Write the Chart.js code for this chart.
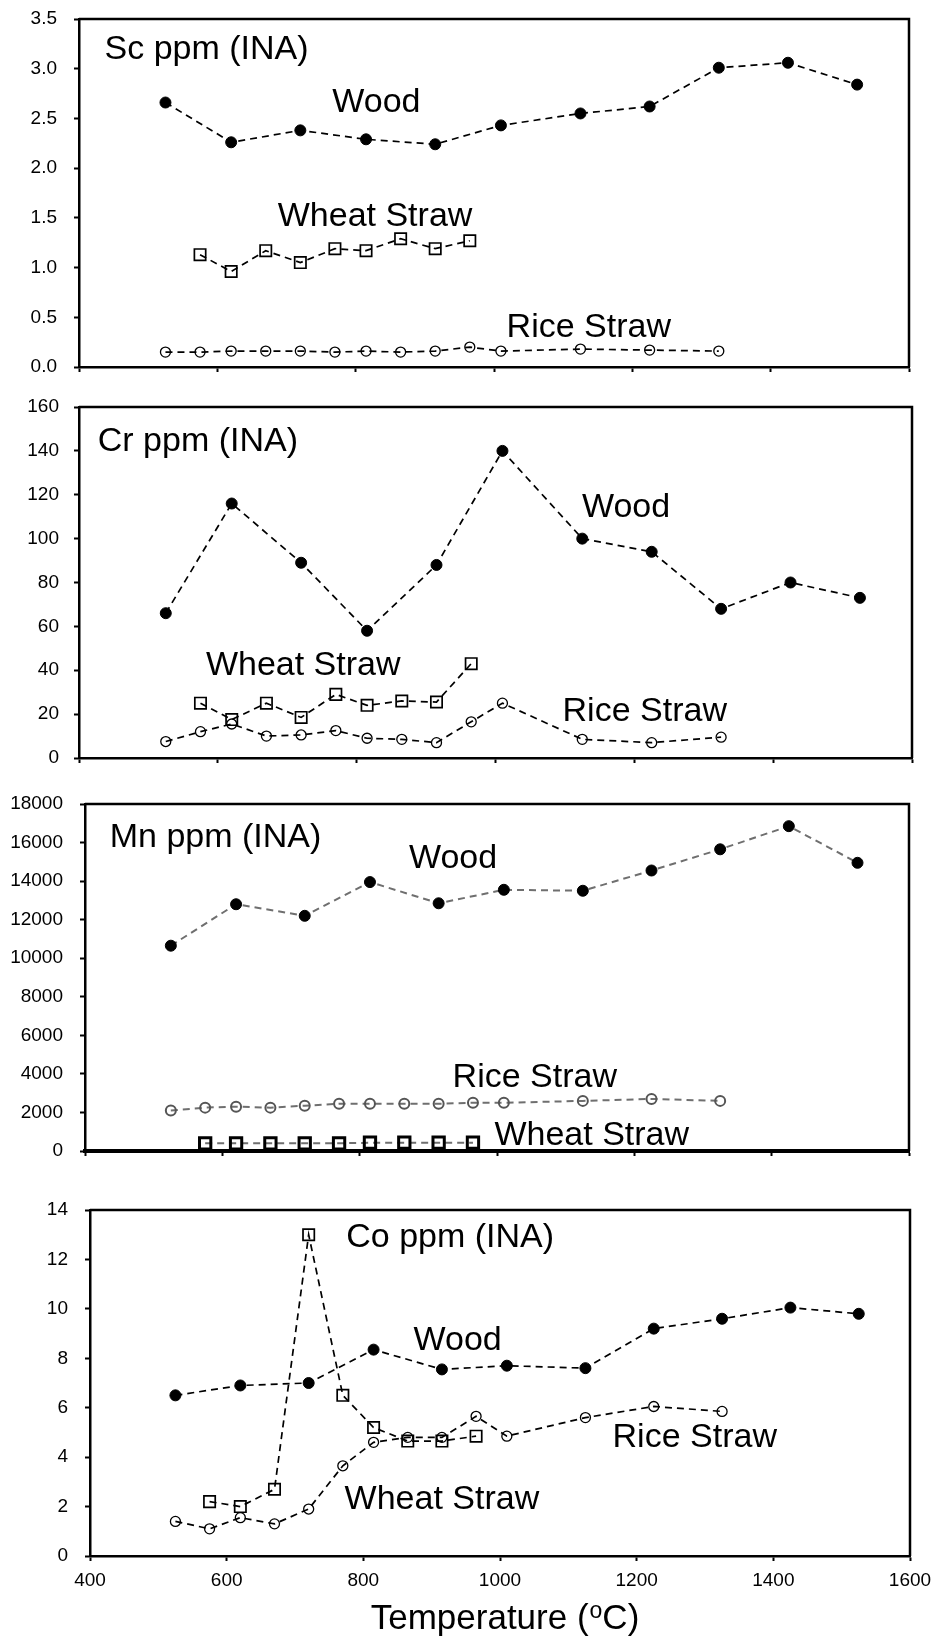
<!DOCTYPE html>
<html>
<head>
<meta charset="utf-8">
<script src="https://cdn.jsdelivr.net/npm/chart.js@4.4.1/dist/chart.umd.min.js"></script>
<style>
  body { margin: 0; background: #fff; }
  #wrap { position: relative; width: 942px; height: 1642px; overflow: hidden; }
  canvas { position: absolute; left: 0; }
</style>
</head>
<body>
<div id="wrap">
  <canvas id="scChart"></canvas>
  <canvas id="crChart"></canvas>
  <canvas id="mnChart"></canvas>
  <canvas id="coChart"></canvas>
</div>
<script>
// temperatures (oC) for each material
const woodTemps = [525, 620, 720, 815, 915, 1010, 1125, 1225, 1325, 1425, 1525];
const wheatTemps = [575, 620, 670, 720, 770, 815, 865, 915, 965];
const riceTemps = [525, 575, 620, 670, 720, 770, 815, 865, 915, 965, 1010, 1125, 1225, 1325];
const xTicks = [400, 600, 800, 1000, 1200, 1400, 1600];

// Sc ppm
const scWood = [2.66, 2.26, 2.38, 2.29, 2.24, 2.43, 2.55, 2.62, 3.01, 3.06, 2.84];
const scWheat = [1.13, 0.96, 1.17, 1.05, 1.19, 1.17, 1.29, 1.19, 1.27];
const scRice = [0.15, 0.15, 0.16, 0.16, 0.16, 0.15, 0.16, 0.15, 0.16, 0.20, 0.16, 0.18, 0.17, 0.16];

// Cr ppm
const crWood = [66, 116, 89, 58, 88, 140, 100, 94, 68, 80, 73];
const crWheat = [25, 17.5, 25, 18.5, 29, 24, 26, 25.5, 43];
const crRice = [7.5, 12, 15.5, 10, 10.5, 12.5, 9, 8.5, 7, 16.5, 25, 8.5, 7, 9.5];

// Mn ppm
const mnWood = [10650, 12800, 12200, 13950, 12850, 13550, 13500, 14550, 15650, 16850, 14950];
const mnWheat = [400, 400, 400, 400, 400, 430, 430, 430, 430];
const mnRice = [2100, 2250, 2300, 2250, 2350, 2450, 2450, 2450, 2450, 2500, 2500, 2600, 2700, 2600];

// Co ppm
const coWood = [6.5, 6.9, 7.0, 8.35, 7.55, 7.7, 7.6, 9.2, 9.6, 10.05, 9.8];
const coWheat = [2.2, 2.0, 2.7, 13.0, 6.5, 5.2, 4.65, 4.65, 4.85];
const coRice = [1.4, 1.1, 1.55, 1.3, 1.9, 3.65, 4.6, 4.8, 4.8, 5.65, 4.85, 5.6, 6.05, 5.85];

const FONT = '"Liberation Sans", Arial, sans-serif';
Chart.defaults.font.family = FONT;
Chart.defaults.color = '#000';

const PAGE_W = 942;
const MARGIN = 32; // room kept above/below each plot inside its canvas

function pts(xs, ys) {
    return xs.map((x, i) => ({ x: x, y: ys[i] }));
}

// draws the box (top + right edges) and the text labels inside the plot
const boxAndLabels = {
    id: 'boxAndLabels',
    afterDatasetsDraw(chart, args, opts) {
        const ctx = chart.ctx;
        const a = chart.chartArea;
        ctx.save();
        ctx.strokeStyle = '#000';
        ctx.lineWidth = opts.boxWidth || 2.5;
        ctx.beginPath();
        ctx.moveTo(a.left, a.top);
        ctx.lineTo(a.right, a.top);
        ctx.lineTo(a.right, a.bottom);
        ctx.stroke();

        ctx.fillStyle = '#000';
        ctx.font = '34px ' + FONT;
        ctx.textBaseline = 'alphabetic';
        (opts.labels || []).forEach(l => {
            ctx.textAlign = l.align || 'center';
            ctx.fillText(l.text, chart.scales.x.getPixelForValue(l.x), chart.scales.y.getPixelForValue(l.y));
        });

        if (opts.xTitle) {
            // Temperature (oC) with a raised small o
            const big = '35px ' + FONT, small = '23px ' + FONT;
            const p1 = 'Temperature (', p2 = 'o', p3 = 'C)';
            ctx.font = big; const w1 = ctx.measureText(p1).width, w3 = ctx.measureText(p3).width;
            ctx.font = small; const w2 = ctx.measureText(p2).width;
            const cx = (a.left + a.right) / 2 + 5;
            let x = cx - (w1 + w2 + w3 + 1) / 2;
            const base = chart.height - 13;
            ctx.textAlign = 'left';
            ctx.font = big; ctx.fillText(p1, x, base); x += w1;
            ctx.font = small; ctx.fillText(p2, x + 1, base - 11); x += w2 + 1;
            ctx.font = big; ctx.fillText(p3, x, base);
        }
        ctx.restore();
    }
};

function makePanel(id, p) {
    // place the canvas so the plot area lands on p.top .. p.bottom of the page
    const canvas = document.getElementById(id);
    const xHeight = p.xHeight || MARGIN;
    const canvasTop = p.top - MARGIN;
    canvas.width = PAGE_W;
    canvas.height = p.bottom + xHeight - canvasTop;
    canvas.style.top = canvasTop + 'px';

    const lineCol = p.lineColor || '#000';
    const lw = p.lineWidth || 1.7;
    const dash = [7, 5];
    const datasets = [
        {
            label: 'Wood', data: pts(woodTemps, p.wood),
            borderColor: lineCol, borderWidth: lw, borderDash: dash,
            pointStyle: 'circle', pointRadius: 5.5, pointBackgroundColor: '#000', pointBorderColor: '#000', pointBorderWidth: 1
        },
        {
            label: 'Wheat Straw', data: pts(wheatTemps, p.wheat),
            borderColor: lineCol, borderWidth: lw, borderDash: dash,
            pointStyle: 'rect', pointRadius: p.squareRadius || 8, pointBackgroundColor: 'rgba(0,0,0,0)',
            pointBorderColor: '#000', pointBorderWidth: p.squareBorder || 1.7
        },
        {
            label: 'Rice Straw', data: pts(riceTemps, p.rice),
            borderColor: lineCol, borderWidth: lw, borderDash: dash,
            pointStyle: 'circle', pointRadius: 5, pointBackgroundColor: 'rgba(0,0,0,0)',
            pointBorderColor: p.riceColor || '#000', pointBorderWidth: p.riceBorder || 1.3
        }
    ];
    return new Chart(canvas, {
        type: 'line',
        data: { datasets: datasets },
        options: {
            responsive: false,
            animation: false,
            events: [],
            layout: { padding: { top: MARGIN, right: PAGE_W - p.right, left: 0, bottom: 0 } },
            plugins: {
                legend: { display: false },
                tooltip: { enabled: false },
                boxAndLabels: { labels: p.labels, xTitle: p.xTitle, boxWidth: p.boxWidth }
            },
            scales: {
                x: {
                    type: 'linear', min: 400, max: 1600,
                    afterBuildTicks: s => { s.ticks = xTicks.map(v => ({ value: v })); },
                    grid: { drawOnChartArea: false, drawTicks: true, tickLength: 5, tickWidth: 2, tickColor: '#000' },
                    border: { display: true, color: '#000', width: p.xBorder || 2.5 },
                    ticks: { display: !!p.xLabels, padding: 8, font: { size: 19 }, color: '#000', callback: v => String(v) },
                    afterFit: s => { s.height = xHeight; }
                },
                y: {
                    min: 0, max: p.yMax,
                    ticks: {
                        stepSize: p.yStep, padding: p.yPad || 17, font: { size: 19 }, color: '#000',
                        callback: v => p.decimals ? v.toFixed(p.decimals) : String(v)
                    },
                    grid: { drawOnChartArea: false, drawTicks: true, tickLength: 5, tickWidth: 2, tickColor: '#000' },
                    border: { display: true, color: '#000', width: 2.5 },
                    afterFit: s => { s.width = p.left; }
                }
            }
        },
        plugins: [boxAndLabels]
    });
}

const scChart = makePanel('scChart', {
    wood: scWood, wheat: scWheat, rice: scRice,
    yMax: 3.5, yStep: 0.5, decimals: 1,
    left: 79, top: 19, right: 909, bottom: 367,
    labels: [
        { text: 'Sc ppm (INA)', x: 437, y: 3.10, align: 'left' },
        { text: 'Wood', x: 830, y: 2.56 },
        { text: 'Wheat Straw', x: 828, y: 1.42 },
        { text: 'Rice Straw', x: 1137, y: 0.30 }
    ]
});

const crChart = makePanel('crChart', {
    wood: crWood, wheat: crWheat, rice: crRice,
    yMax: 160, yStep: 20, yPad: 15,
    left: 79, top: 407, right: 912, bottom: 758,
    labels: [
        { text: 'Cr ppm (INA)', x: 427, y: 140, align: 'left' },
        { text: 'Wood', x: 1188, y: 110 },
        { text: 'Wheat Straw', x: 723, y: 38 },
        { text: 'Rice Straw', x: 1215, y: 16.8 }
    ]
});

const mnChart = makePanel('mnChart', {
    wood: mnWood, wheat: mnWheat, rice: mnRice,
    yMax: 18000, yStep: 2000,
    left: 85, top: 804, right: 909, bottom: 1151, xBorder: 4,
    lineColor: '#6f6f6f', lineWidth: 2, riceColor: '#555', riceBorder: 2,
    squareBorder: 3, squareRadius: 8,
    labels: [
        { text: 'Mn ppm (INA)', x: 436, y: 15775, align: 'left' },
        { text: 'Wood', x: 936, y: 14688 },
        { text: 'Rice Straw', x: 1055, y: 3310 },
        { text: 'Wheat Straw', x: 1138, y: 310 }
    ]
});

const coChart = makePanel('coChart', {
    wood: coWood, wheat: coWheat, rice: coRice,
    yMax: 14, yStep: 2,
    left: 90, top: 1210, right: 910, bottom: 1556, xHeight: 86, xLabels: true, xTitle: true,
    labels: [
        { text: 'Co ppm (INA)', x: 775, y: 12.5, align: 'left' },
        { text: 'Wood', x: 938, y: 8.35 },
        { text: 'Rice Straw', x: 1285, y: 4.40 },
        { text: 'Wheat Straw', x: 915, y: 1.90 }
    ]
});
</script>
</body>
</html>
